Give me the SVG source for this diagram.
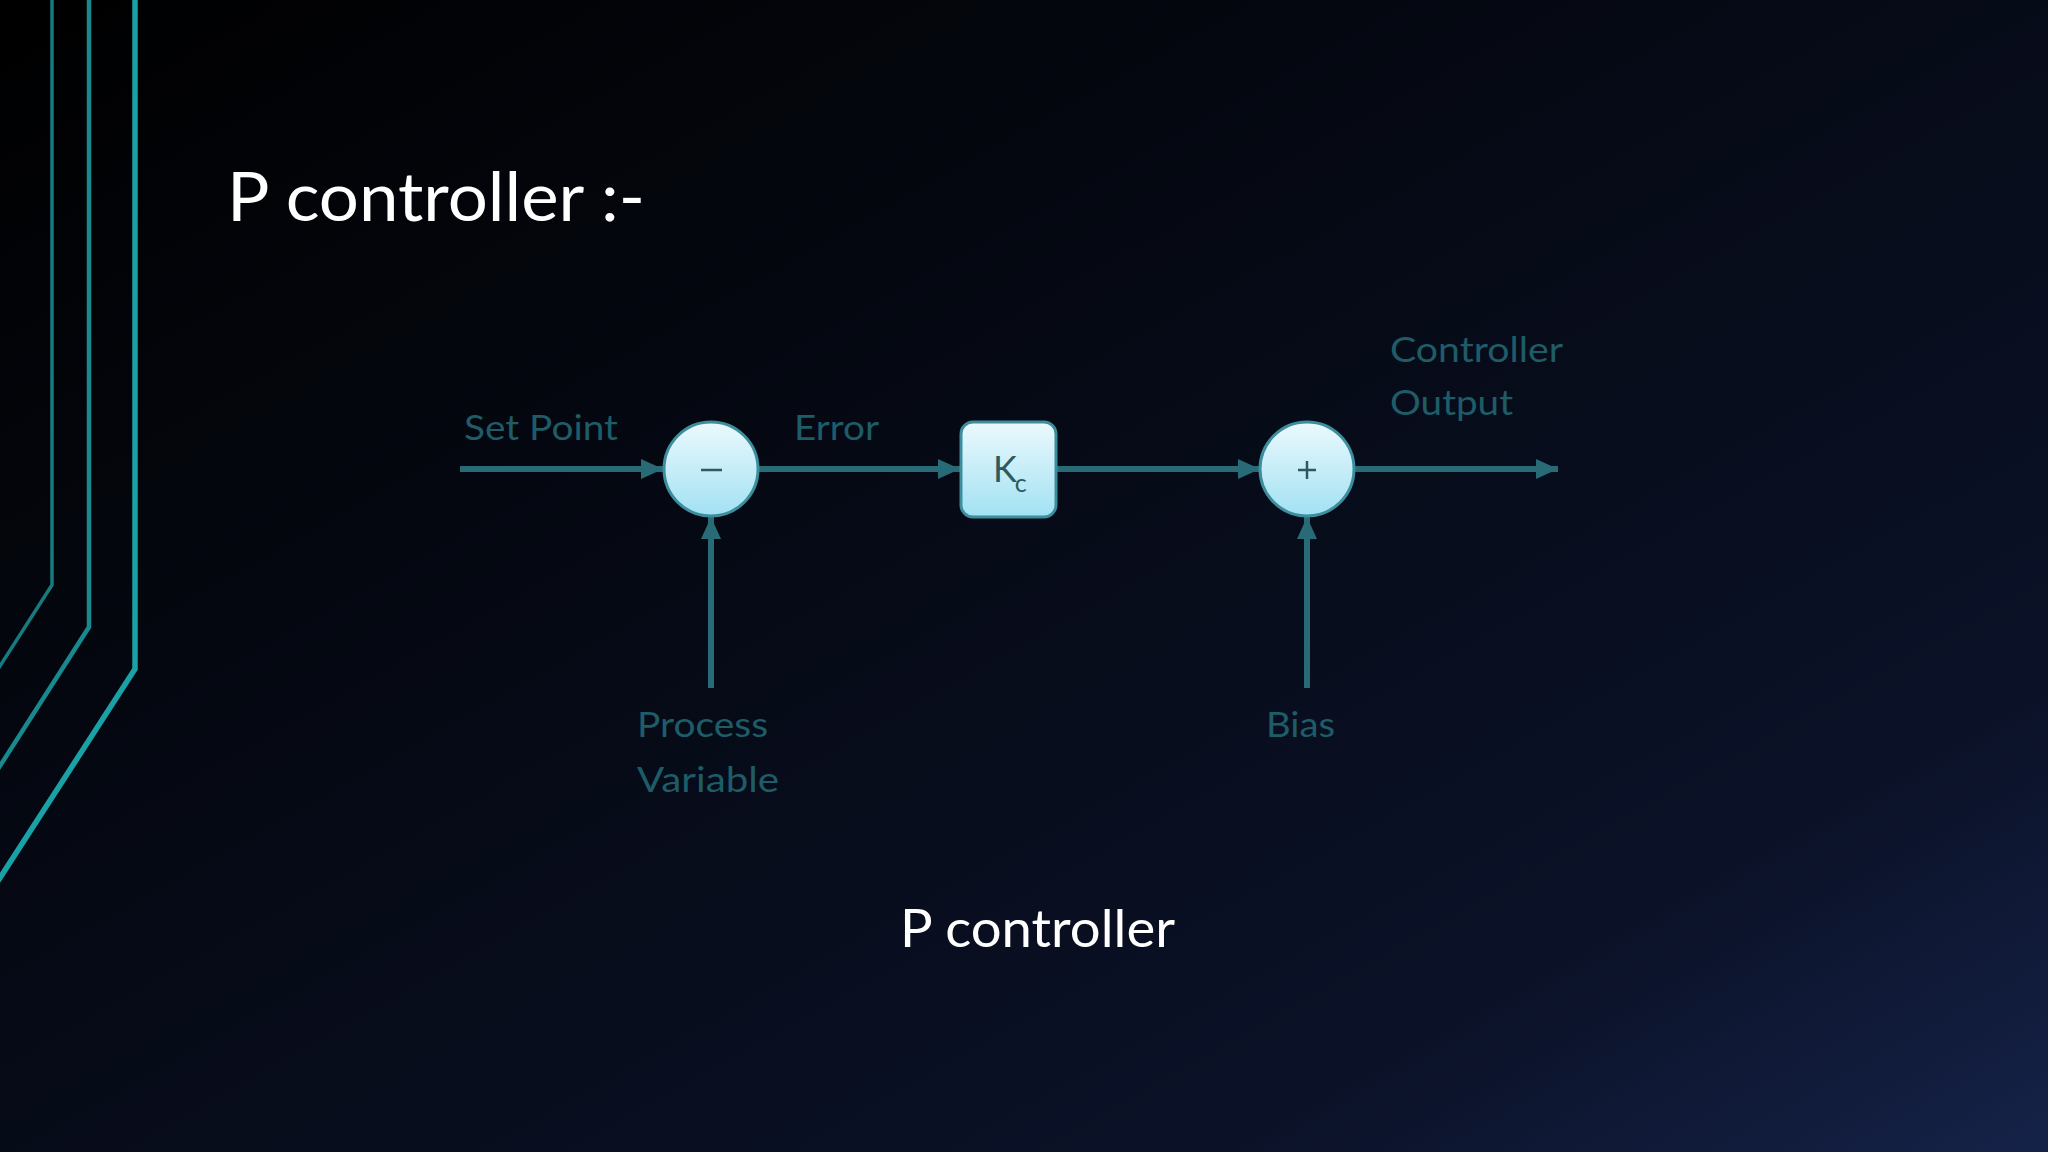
<svg xmlns="http://www.w3.org/2000/svg" width="2048" height="1152" viewBox="0 0 2048 1152">
  <defs>
    <linearGradient id="bg" x1="0" y1="0" x2="1" y2="1">
      <stop offset="0" stop-color="#000000"/>
      <stop offset="0.45" stop-color="#060a16"/>
      <stop offset="0.8" stop-color="#0b1228"/>
      <stop offset="1" stop-color="#152248"/>
    </linearGradient>
    <linearGradient id="nodeFill" x1="0" y1="0" x2="0" y2="1">
      <stop offset="0" stop-color="#ebf9fd"/>
      <stop offset="1" stop-color="#a2e1f3"/>
    </linearGradient>
    <marker id="arrow" markerUnits="userSpaceOnUse" markerWidth="24" markerHeight="22" refX="22" refY="10" orient="auto">
      <path d="M0,0 L22,10 L0,20 Z" fill="#286b77"/>
    </marker>
    <style>
      .deco { fill: none; stroke-linejoin: miter; }
      .conn { stroke: #286b77; stroke-width: 6; fill: none; }
      .node { fill: url(#nodeFill); stroke: #3c8e9d; stroke-width: 3; }
      .label { font-family: Lato, "Open Sans", sans-serif; font-size: 35px; fill: #1e5c68; }
      .title { font-family: Lato, "Open Sans", sans-serif; fill: #ffffff; }
      .sym { stroke: #2c5a60; stroke-width: 2.5; fill: none; }
    </style>
  </defs>

  <rect x="0" y="0" width="2048" height="1152" fill="url(#bg)"/>

  <g id="decoration">
    <path class="deco" d="M52,0 L52,585 L-2,669" stroke="#167a7e" stroke-width="3.5"/>
    <path class="deco" d="M89,0 L89,627 L-2,769" stroke="#18898d" stroke-width="4.5"/>
    <path class="deco" d="M135,0 L135,669 L-2,881" stroke="#19a1a5" stroke-width="5.5"/>
  </g>

  <g id="title">
    <text class="title" x="227" y="221" font-size="67" textLength="418" lengthAdjust="spacingAndGlyphs">P controller :-</text>
  </g>

  <g id="connectors">
    <line class="conn" x1="460" y1="469" x2="663" y2="469" marker-end="url(#arrow)"/>
    <line class="conn" x1="758" y1="469" x2="960" y2="469" marker-end="url(#arrow)"/>
    <line class="conn" x1="1056" y1="469" x2="1260" y2="469" marker-end="url(#arrow)"/>
    <line class="conn" x1="1354" y1="469" x2="1558" y2="469" marker-end="url(#arrow)"/>
    <line class="conn" x1="711" y1="688" x2="711" y2="517" marker-end="url(#arrow)"/>
    <line class="conn" x1="1307" y1="688" x2="1307" y2="517" marker-end="url(#arrow)"/>
  </g>

  <g id="sum-error">
    <circle class="node" cx="711" cy="469" r="47"/>
    <line class="sym" x1="701" y1="470" x2="722" y2="470"/>
  </g>

  <g id="gain-kc">
    <rect class="node" x="961" y="422" width="95" height="95" rx="12"/>
    <text x="993" y="482" font-family="Lato, 'Open Sans', sans-serif" font-size="36" fill="#2c5a60">K<tspan dx="-2" dy="10" font-size="25">c</tspan></text>
  </g>

  <g id="sum-bias">
    <circle class="node" cx="1307" cy="469" r="47"/>
    <line class="sym" x1="1298" y1="470" x2="1316" y2="470"/>
    <line class="sym" x1="1307" y1="461" x2="1307" y2="479"/>
  </g>

  <g id="labels">
    <text class="label" x="464" y="440" textLength="154" lengthAdjust="spacingAndGlyphs">Set Point</text>
    <text class="label" x="794" y="440" textLength="85" lengthAdjust="spacingAndGlyphs">Error</text>
    <text class="label" x="1390" y="362" textLength="173" lengthAdjust="spacingAndGlyphs">Controller</text>
    <text class="label" x="1390" y="415" textLength="123" lengthAdjust="spacingAndGlyphs">Output</text>
    <text class="label" x="637" y="737" textLength="131" lengthAdjust="spacingAndGlyphs">Process</text>
    <text class="label" x="637" y="792" textLength="142" lengthAdjust="spacingAndGlyphs">Variable</text>
    <text class="label" x="1266" y="737" textLength="69" lengthAdjust="spacingAndGlyphs">Bias</text>
  </g>

  <g id="caption">
    <text class="title" x="900" y="947" font-size="53" textLength="275" lengthAdjust="spacingAndGlyphs">P controller</text>
  </g>
</svg>
